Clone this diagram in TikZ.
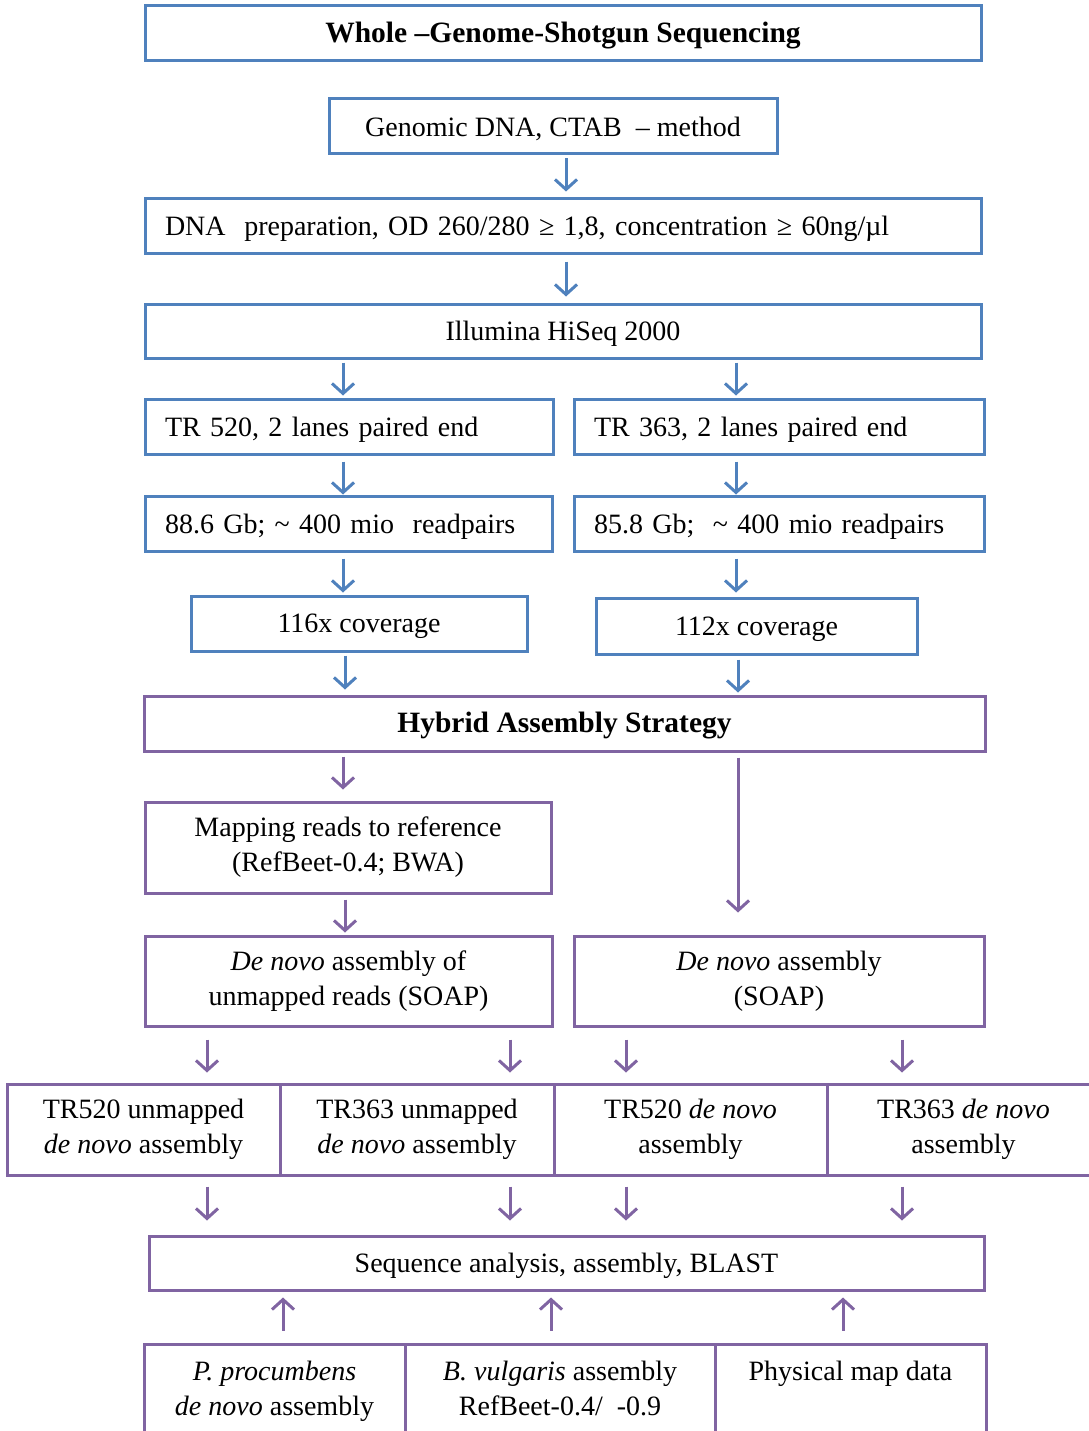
\documentclass[tikz,border=0pt]{standalone}
\usepackage{fontspec}
\setmainfont{Liberation Serif}
\usetikzlibrary{arrows.meta}

\definecolor{boxblue}{HTML}{4F81BD}
\definecolor{boxpurple}{HTML}{8064A2}

\newcommand{\lowstrut}{\rule[-8pt]{0pt}{8pt}}

\tikzset{
    wh/.style 2 args={minimum width=#1pt, minimum height=#2pt},
    blbox/.style={draw=boxblue, line width=3pt, inner sep=0pt, align=center,
        font=\fontsize{28}{35}\selectfont, execute at begin node=\rule{0pt}{25pt}},
    pubox/.style={draw=boxpurple, line width=3pt, inner sep=0pt, align=center,
        font=\fontsize{28}{35}\selectfont, execute at begin node=\rule{0pt}{25pt}},
    titlefont/.style={font=\fontsize{29.5}{35}\selectfont\bfseries},
    blarr/.style={draw=boxblue, line width=3pt, -{Straight Barb[length=10pt,width=22pt]}},
    puarr/.style={draw=boxpurple, line width=3pt, -{Straight Barb[length=10pt,width=22pt]}}
}

\begin{document}
\begin{tikzpicture}[x=1pt, y=-1pt]
    \useasboundingbox[fill=white] (0,0) rectangle (1088,1431);

    % sequenciamento
    \node[blbox, wh={836}{55}, titlefont] (title) at (563,33.5) {Whole –Genome-Shotgun Sequencing};
    \node[blbox, wh={448}{55}] (gdna) at (553,126.5) {Genomic DNA, CTAB \ – method};
    \node[blbox, wh={836}{55}, text width=796pt, align=left] (prep) at (563,226.5) {DNA \ preparation, OD 260/280 ≥ 1,8, concentration ≥ 60ng/µl};
    \node[blbox, wh={836}{54}] (illu) at (563,331) {Illumina HiSeq 2000};

    % linhas TR520 e TR363
    \node[blbox, wh={408}{55}, text width=368pt, align=left] (tr520) at (349,426.5) {TR 520, 2 lanes paired end};
    \node[blbox, wh={410}{55}, text width=370pt, align=left] (tr363) at (779,426.5) {TR 363, 2 lanes paired end};
    \node[blbox, wh={407}{55}, text width=367pt, align=left] (gb520) at (348.5,523.5) {88.6 Gb; \textasciitilde\ 400 mio \ readpairs};
    \node[blbox, wh={410}{55}, text width=370pt, align=left] (gb363) at (779,523.5) {85.8 Gb; \ \textasciitilde\ 400 mio readpairs};
    \node[blbox, wh={336}{55}] (cov520) at (359,623.5) {116x coverage};
    \node[blbox, wh={321}{56}] (cov363) at (756.5,626) {112x coverage};

    % estrategia hibrida
    \node[pubox, wh={841}{55}, titlefont] (hybrid) at (564.5,723.5) {Hybrid Assembly Strategy};
    \node[pubox, wh={406}{91}] (mapping) at (348,847.5) {Mapping reads to reference\\(RefBeet-0.4; BWA)};
    \node[pubox, wh={407}{90}] (dnleft) at (348.5,981) {\textit{De novo} assembly of\\unmapped reads (SOAP)};
    \node[pubox, wh={410}{90}] (dnright) at (779,981) {\textit{De novo} assembly\\(SOAP)};

    % montagens
    \node[pubox, wh={273}{91}] (u520) at (143.5,1129.5) {TR520 unmapped\\\textit{de novo} assembly};
    \node[pubox, wh={274}{91}] (u363) at (417,1129.5) {TR363 unmapped\\\textit{de novo} assembly};
    \node[pubox, wh={273}{91}] (d520) at (690.5,1129.5) {TR520 \textit{de novo}\\assembly};
    \node[pubox, wh={273}{91}] (d363) at (963.5,1129.5) {TR363 \textit{de novo}\\assembly};

    % analise e dados externos
    \node[pubox, wh={835}{54}] (seq) at (566.5,1263) {Sequence analysis, assembly, BLAST};
    \node[pubox, wh={261}{96}] (pproc) at (274.5,1392) {\textit{P. procumbens}\\\textit{de novo} assembly\lowstrut};
    \node[pubox, wh={310}{96}] (bvul) at (560,1392) {\textit{B. vulgaris} assembly\\RefBeet-0.4/ \ -0.9\lowstrut};
    \node[pubox, wh={271}{96}] (phys) at (850.5,1392) {Physical map data\\\lowstrut};

    % setas azuis
    \draw[blarr, shorten <=3pt, shorten >=6pt] (566,0 |- gdna.south) -- (566,0 |- prep.north);
    \draw[blarr, shorten <=6pt, shorten >=6pt] (566,0 |- prep.south) -- (566,0 |- illu.north);
    \draw[blarr, shorten <=3pt, shorten >=2pt] (343,0 |- illu.south) -- (343,0 |- tr520.north);
    \draw[blarr, shorten <=3pt, shorten >=2pt] (736,0 |- illu.south) -- (736,0 |- tr363.north);
    \draw[blarr, shorten <=6pt, shorten >=0pt] (343,0 |- tr520.south) -- (343,0 |- gb520.north);
    \draw[blarr, shorten <=6pt, shorten >=0pt] (736,0 |- tr363.south) -- (736,0 |- gb363.north);
    \draw[blarr, shorten <=6pt, shorten >=2pt] (343,0 |- gb520.south) -- (343,0 |- cov520.north);
    \draw[blarr, shorten <=6pt, shorten >=4pt] (736,0 |- gb363.south) -- (736,0 |- cov363.north);
    \draw[blarr, shorten <=3pt, shorten >=5pt] (345,0 |- cov520.south) -- (345,0 |- hybrid.north);
    \draw[blarr, shorten <=4pt, shorten >=2pt] (738,0 |- cov363.south) -- (738,0 |- hybrid.north);

    % setas roxas
    \draw[puarr, shorten <=4pt, shorten >=11pt] (343,0 |- hybrid.south) -- (343,0 |- mapping.north);
    \draw[puarr, shorten <=5pt, shorten >=22pt] (738,0 |- hybrid.south) -- (738,0 |- dnright.north);
    \draw[puarr, shorten <=5pt, shorten >=2pt] (345,0 |- mapping.south) -- (345,0 |- dnleft.north);
    \foreach \x in {207,510,626,902}
        \draw[puarr, shorten <=12pt, shorten >=10pt] (\x,0 |- dnleft.south) -- (\x,0 |- u520.north);
    \foreach \x in {207,510,626,902}
        \draw[puarr, shorten <=10pt, shorten >=14pt] (\x,0 |- u520.south) -- (\x,0 |- seq.north);
    \foreach \x in {283,551,843}
        \draw[puarr, shorten <=12pt, shorten >=6pt] (\x,0 |- pproc.north) -- (\x,0 |- seq.south);

\end{tikzpicture}
\end{document}
